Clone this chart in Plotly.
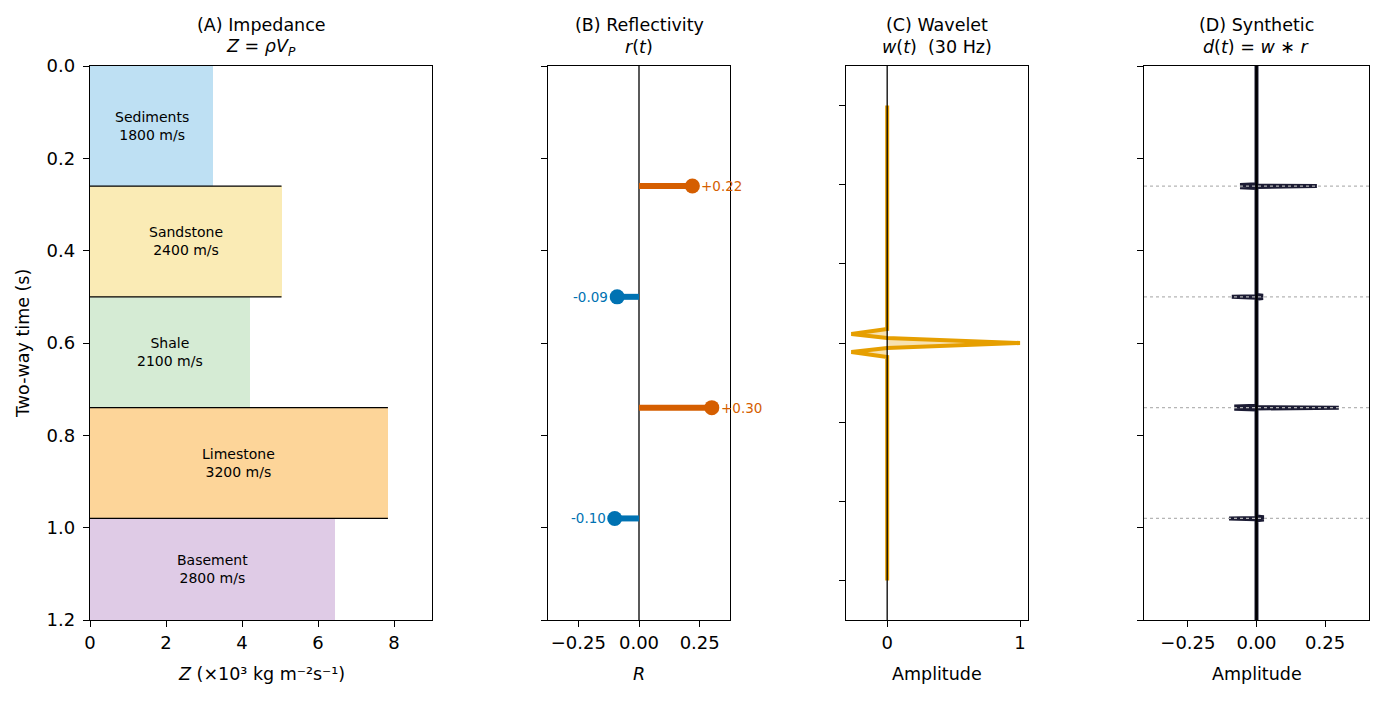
import plotly.graph_objects as go

# ---------------- data ----------------
layer_names = ["Sediments", "Sandstone", "Shale", "Limestone", "Basement"]
layer_vp = [1800, 2400, 2100, 3200, 2800]
layer_top = [0.0, 0.26, 0.50, 0.74, 0.98]
layer_bottom = [0.26, 0.50, 0.74, 0.98, 1.20]
layer_Z = [3.24, 5.04, 4.20, 7.84, 6.44]

refl_t = [0.26, 0.50, 0.74, 0.98]
refl_r = [0.22, -0.09, 0.30, -0.10]

wav_t = [-0.30, -0.0177, -0.0114, -0.0063, 0.0, 0.0063, 0.0114, 0.0177, 0.30]
wav_a = [0.0, 0.0, -0.27, 0.0, 1.0, 0.0, -0.27, 0.0, 0.0]

syn_t = [0.0,
         0.256, 0.2575, 0.259, 0.26, 0.261, 0.2625, 0.264,
         0.496, 0.4975, 0.499, 0.50, 0.501, 0.5025, 0.504,
         0.736, 0.7375, 0.739, 0.74, 0.741, 0.7425, 0.744,
         0.976, 0.9775, 0.979, 0.98, 0.981, 0.9825, 0.984,
         1.2]
syn_a = [0.0,
         0.0, -0.06, 0.0, 0.22, 0.0, -0.06, 0.0,
         0.0, 0.024, 0.0, -0.09, 0.0, 0.024, 0.0,
         0.0, -0.081, 0.0, 0.30, 0.0, -0.081, 0.0,
         0.0, 0.027, 0.0, -0.10, 0.0, 0.027, 0.0,
         0.0]

# ---------------- style ----------------
FONT = "DejaVu Sans"
layer_colors = ["#BEE0F3", "#FAEBB5", "#D5EBD4", "#FDD599", "#DFCBE6"]
POS = "#D55E00"
NEG = "#0072B2"
WAV = "#E69F00"
SYN = "#1c1c34"
W, H = 1383, 701

def px(x):
    return x / W

def py(y):
    return 1 - y / H

ydom = [py(620), py(66)]
xdoms = [[px(90), px(432)], [px(548), px(730)], [px(846), px(1028)], [px(1144), px(1369)]]

fig = go.Figure()

# ---- Panel A: impedance bars ----
centers = [(a + b) / 2 for a, b in zip(layer_top, layer_bottom)]
thick = [b - a for a, b in zip(layer_top, layer_bottom)]
fig.add_trace(go.Bar(
    x=layer_Z, y=centers, width=thick, base=0, orientation="h",
    marker=dict(color=layer_colors, line=dict(width=0)),
    xaxis="x", yaxis="y", showlegend=False, hoverinfo="skip"))

# interface lines
for i in range(1, len(layer_top)):
    zmax = max(layer_Z[i - 1], layer_Z[i])
    fig.add_trace(go.Scatter(
        x=[0, zmax], y=[layer_top[i], layer_top[i]], mode="lines",
        line=dict(color="black", width=1.3), xaxis="x", yaxis="y",
        showlegend=False, hoverinfo="skip"))

for name, vp, z, c in zip(layer_names, layer_vp, layer_Z, centers):
    fig.add_annotation(x=z / 2, y=c, xref="x", yref="y",
                       text=f"{name}<br>{vp} m/s", showarrow=False,
                       xanchor="center", yanchor="middle",
                       font=dict(family=FONT, size=14, color="black"))

# ---- Panel B: reflectivity ----
fig.add_shape(type="line", xref="x2", yref="y2 domain", x0=0, x1=0, y0=0, y1=1,
              line=dict(color="black", width=1.3), layer="below")
for t, r in zip(refl_t, refl_r):
    col = POS if r > 0 else NEG
    fig.add_trace(go.Scatter(
        x=[0, r], y=[t, t], mode="lines", line=dict(color=col, width=6),
        xaxis="x2", yaxis="y2", showlegend=False, hoverinfo="skip"))
    fig.add_trace(go.Scatter(
        x=[r], y=[t], mode="markers", marker=dict(color=col, size=15),
        xaxis="x2", yaxis="y2", showlegend=False, hoverinfo="skip"))
    fig.add_annotation(x=r, y=t, xref="x2", yref="y2", text=f"{r:+.2f}",
                       showarrow=False, xanchor="left" if r > 0 else "right",
                       yanchor="middle",
                       xshift=7 if r > 0 else -7,
                       font=dict(family=FONT, size=13.5, color=col))

# ---- Panel C: wavelet ----
fig.add_trace(go.Scatter(
    x=wav_a, y=wav_t, mode="lines", fill="tozerox",
    fillcolor="rgba(230,159,0,0.3)",
    line=dict(color=WAV, width=4), xaxis="x3", yaxis="y3",
    showlegend=False, hoverinfo="skip"))
fig.add_shape(type="line", xref="x3", yref="y3 domain", x0=0, x1=0, y0=0, y1=1,
              line=dict(color="black", width=1.3), layer="above")

# ---- Panel D: synthetic ----
fig.add_trace(go.Scatter(
    x=syn_a, y=syn_t, mode="lines", line=dict(color=SYN, width=4),
    xaxis="x4", yaxis="y4", showlegend=False, hoverinfo="skip"))
for t in refl_t:
    fig.add_shape(type="line", xref="x4 domain", yref="y4", x0=0, x1=1, y0=t, y1=t,
                  line=dict(color="#b5b5b5", width=1.2, dash="dot"), layer="above")
fig.add_shape(type="line", xref="x4", yref="y4 domain", x0=0, x1=0, y0=0, y1=1,
              line=dict(color="black", width=2.3), layer="above")

# ---- axes ----
axis_common = dict(showline=True, mirror=True, linecolor="black", linewidth=1.3,
                   ticks="outside", ticklen=6, tickwidth=1.3, tickcolor="black",
                   showgrid=False, zeroline=False, automargin=False,
                   tickfont=dict(family=FONT, size=18, color="black"))

yA = dict(axis_common, domain=ydom, range=[1.2, 0], tickvals=[0, 0.2, 0.4, 0.6, 0.8, 1.0, 1.2],
          ticktext=["0.0", "0.2", "0.4", "0.6", "0.8", "1.0", "1.2"], ticklabelstandoff=4)
fig.update_layout(
    xaxis=dict(axis_common, domain=xdoms[0], range=[0, 9], tickvals=[0, 2, 4, 6, 8], anchor="y"),
    yaxis=dict(yA, anchor="x"),
    xaxis2=dict(axis_common, domain=xdoms[1], range=[-0.375, 0.375], anchor="y2",
                tickvals=[-0.25, 0, 0.25], ticktext=["\u22120.25", "0.00", "0.25"]),
    yaxis2=dict(axis_common, domain=ydom, range=[1.2, 0], anchor="x2",
                tickvals=[0, 0.2, 0.4, 0.6, 0.8, 1.0, 1.2], showticklabels=False),
    xaxis3=dict(axis_common, domain=xdoms[2], range=[-0.31, 1.06], anchor="y3",
                tickvals=[0, 1], ticktext=["0", "1"]),
    yaxis3=dict(axis_common, domain=ydom, range=[0.35, -0.35], anchor="x3",
                tickvals=[-0.3, -0.2, -0.1, 0, 0.1, 0.2, 0.3], showticklabels=False),
    xaxis4=dict(axis_common, domain=xdoms[3], range=[-0.41, 0.41], anchor="y4",
                tickvals=[-0.25, 0, 0.25], ticktext=["\u22120.25", "0.00", "0.25"]),
    yaxis4=dict(axis_common, domain=ydom, range=[1.2, 0], anchor="x4",
                tickvals=[0, 0.2, 0.4, 0.6, 0.8, 1.0, 1.2], showticklabels=False),
)

# ---- titles and labels ----
titles = [
    ("(A) Impedance", "<i>Z</i> = <i>ρV</i><sub><i>P</i></sub>"),
    ("(B) Reflectivity", "<i>r</i>(<i>t</i>)"),
    ("(C) Wavelet", "<i>w</i>(<i>t</i>)&nbsp; (30 Hz)"),
    ("(D) Synthetic", "<i>d</i>(<i>t</i>) = <i>w</i> ∗ <i>r</i>"),
]
for (l1, l2), d in zip(titles, xdoms):
    cx = (d[0] + d[1]) / 2
    fig.add_annotation(x=cx, y=py(25), xref="paper", yref="paper", text=l1,
                       showarrow=False, xanchor="center", yanchor="middle",
                       font=dict(family=FONT, size=17.5, color="black"))
    fig.add_annotation(x=cx, y=py(47), xref="paper", yref="paper", text=l2,
                       showarrow=False, xanchor="center", yanchor="middle",
                       font=dict(family=FONT, size=17.5, color="black"))

xlabels = ["<i>Z</i> (×10³ kg m⁻²s⁻¹)", "<i>R</i>", "Amplitude", "Amplitude"]
for lab, d in zip(xlabels, xdoms):
    cx = (d[0] + d[1]) / 2
    fig.add_annotation(x=cx, y=py(674), xref="paper", yref="paper", text=lab,
                       showarrow=False, xanchor="center", yanchor="middle",
                       font=dict(family=FONT, size=17.5, color="black"))

fig.add_annotation(x=px(23), y=py(344), xref="paper", yref="paper", text="Two-way time (s)",
                   textangle=-90, showarrow=False, xanchor="center", yanchor="middle",
                   font=dict(family=FONT, size=17.5, color="black"))

fig.update_layout(width=W, height=H, margin=dict(l=0, r=0, t=0, b=0, pad=0),
                  paper_bgcolor="white", plot_bgcolor="white", showlegend=False,
                  bargap=0, font=dict(family=FONT))

fig.write_html("out.html")
